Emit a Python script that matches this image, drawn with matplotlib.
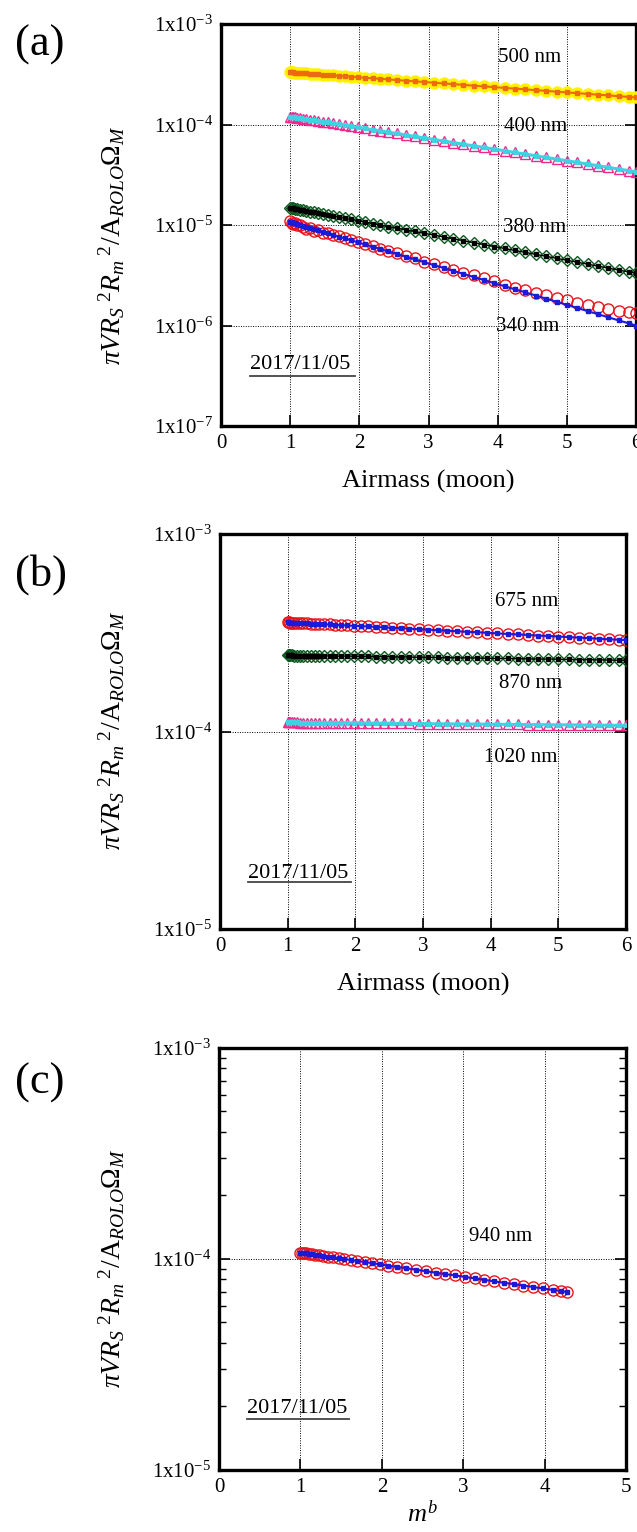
import matplotlib
matplotlib.use("Agg")
import matplotlib.pyplot as plt
import numpy as np

plt.rcParams["font.family"] = ["Liberation Serif", "DejaVu Serif"]
plt.rcParams["mathtext.fontset"] = "custom"
plt.rcParams["mathtext.rm"] = "Liberation Serif"
plt.rcParams["mathtext.it"] = "Liberation Serif:italic"
plt.rcParams["mathtext.bf"] = "Liberation Serif:bold"

# airmass samples (moon), shared by panels (a) and (b)
airmass = [1.00, 1.02, 1.04, 1.07, 1.10, 1.14, 1.18, 1.23, 1.28, 1.34, 1.40, 1.47,
           1.54, 1.62, 1.70, 1.79, 1.88, 1.98, 2.08, 2.19, 2.30, 2.42, 2.54, 2.67,
           2.80, 2.94, 3.08, 3.22, 3.36, 3.50, 3.65, 3.80, 3.95, 4.10, 4.25, 4.40,
           4.55, 4.70, 4.85, 5.00, 5.15, 5.30, 5.45, 5.60, 5.75, 5.90, 6.00]

# log10 of the normalised signal
log_500 = [-3.480, -3.481, -3.482, -3.484, -3.485, -3.487, -3.489, -3.492, -3.494, -3.497,
           -3.500, -3.504, -3.507, -3.511, -3.515, -3.520, -3.524, -3.529, -3.534, -3.540,
           -3.545, -3.551, -3.557, -3.564, -3.570, -3.577, -3.584, -3.591, -3.598, -3.605,
           -3.613, -3.620, -3.628, -3.635, -3.643, -3.650, -3.658, -3.665, -3.673, -3.680,
           -3.688, -3.695, -3.703, -3.710, -3.718, -3.725, -3.730]
log_400 = [-3.920, -3.922, -3.924, -3.928, -3.931, -3.935, -3.940, -3.945, -3.951, -3.957,
           -3.964, -3.972, -3.979, -3.988, -3.997, -4.007, -4.017, -4.028, -4.039, -4.051,
           -4.063, -4.076, -4.089, -4.104, -4.118, -4.133, -4.149, -4.164, -4.180, -4.195,
           -4.212, -4.228, -4.245, -4.261, -4.278, -4.294, -4.311, -4.327, -4.344, -4.360,
           -4.377, -4.393, -4.410, -4.426, -4.443, -4.459, -4.470]
log_380 = [-4.830, -4.833, -4.835, -4.839, -4.843, -4.848, -4.853, -4.860, -4.866, -4.874,
           -4.882, -4.891, -4.900, -4.911, -4.921, -4.933, -4.944, -4.957, -4.970, -4.985,
           -4.999, -5.015, -5.030, -5.047, -5.064, -5.082, -5.100, -5.119, -5.137, -5.155,
           -5.175, -5.194, -5.214, -5.233, -5.253, -5.272, -5.292, -5.311, -5.331, -5.350,
           -5.370, -5.389, -5.409, -5.428, -5.448, -5.467, -5.480]
log_340 = [-4.960, -4.978, -4.985, -4.980, -5.000, -4.995, -5.015, -5.040, -5.030, -5.055,
           -5.045, -5.075, -5.075, -5.100, -5.110, -5.130, -5.145, -5.170, -5.185, -5.210,
           -5.235, -5.255, -5.280, -5.310, -5.330, -5.365, -5.390, -5.415, -5.445, -5.475,
           -5.500, -5.530, -5.560, -5.595, -5.625, -5.650, -5.675, -5.700, -5.725, -5.750,
           -5.775, -5.795, -5.815, -5.835, -5.852, -5.870, -5.880]
log_340_fit = [-4.970, -4.974, -4.978, -4.984, -4.991, -4.999, -5.007, -5.017, -5.028, -5.040,
               -5.052, -5.067, -5.081, -5.098, -5.114, -5.133, -5.151, -5.172, -5.193, -5.215,
               -5.238, -5.263, -5.287, -5.314, -5.341, -5.370, -5.399, -5.427, -5.456, -5.485,
               -5.516, -5.547, -5.578, -5.609, -5.640, -5.670, -5.701, -5.732, -5.763, -5.794,
               -5.825, -5.856, -5.887, -5.918, -5.949, -5.979, -6.000]
log_675 = [-3.447, -3.447, -3.448, -3.448, -3.449, -3.450, -3.450, -3.451, -3.452, -3.453,
           -3.454, -3.456, -3.457, -3.458, -3.460, -3.461, -3.463, -3.465, -3.466, -3.468,
           -3.470, -3.473, -3.475, -3.477, -3.479, -3.482, -3.484, -3.487, -3.490, -3.492,
           -3.495, -3.497, -3.500, -3.503, -3.506, -3.508, -3.511, -3.514, -3.516, -3.519,
           -3.522, -3.524, -3.527, -3.530, -3.533, -3.535, -3.537]
log_870 = [-3.614, -3.614, -3.614, -3.614, -3.615, -3.615, -3.615, -3.615, -3.615, -3.616,
           -3.616, -3.616, -3.617, -3.617, -3.618, -3.618, -3.618, -3.619, -3.619, -3.620,
           -3.621, -3.621, -3.622, -3.622, -3.623, -3.624, -3.624, -3.625, -3.626, -3.627,
           -3.627, -3.628, -3.629, -3.630, -3.630, -3.631, -3.632, -3.633, -3.633, -3.634,
           -3.635, -3.636, -3.636, -3.637, -3.638, -3.639, -3.639]
log_1020 = [-3.954, -3.954, -3.954, -3.954, -3.954, -3.954, -3.955, -3.955, -3.955, -3.955,
            -3.955, -3.955, -3.956, -3.956, -3.956, -3.956, -3.957, -3.957, -3.957, -3.958,
            -3.958, -3.958, -3.959, -3.959, -3.959, -3.960, -3.960, -3.961, -3.961, -3.962,
            -3.962, -3.962, -3.963, -3.963, -3.964, -3.964, -3.965, -3.965, -3.966, -3.966,
            -3.966, -3.967, -3.967, -3.968, -3.968, -3.969, -3.969]

# panel (c): 940 nm against m^b
mb = [1.00, 1.02, 1.04, 1.07, 1.10, 1.14, 1.18, 1.23, 1.28, 1.34, 1.40, 1.47, 1.54,
      1.62, 1.70, 1.79, 1.88, 1.98, 2.08, 2.19, 2.30, 2.42, 2.54, 2.66, 2.78, 2.90,
      3.02, 3.14, 3.26, 3.38, 3.50, 3.62, 3.74, 3.86, 3.98, 4.10, 4.20, 4.28]
log_940 = [-3.970, -3.971, -3.972, -3.974, -3.976, -3.978, -3.980, -3.983, -3.986, -3.989,
           -3.993, -3.997, -4.001, -4.005, -4.010, -4.015, -4.020, -4.026, -4.032, -4.038,
           -4.044, -4.051, -4.058, -4.065, -4.072, -4.078, -4.085, -4.092, -4.099, -4.106,
           -4.113, -4.119, -4.126, -4.133, -4.140, -4.147, -4.152, -4.157]

yticks_a = [1e-7, 1e-6, 1e-5, 1e-4, 1e-3]
yticks_bc = [1e-5, 1e-4, 1e-3]
date_label = "2017/11/05"
ylabel = r"$\pi VR_S{}^{\ 2}R_m{}^{\ 2}/\mathrm{A}_{ROLO}\mathit{\Omega}_M$"

RED = "#e8141b"
BLUE = "#1a1ad8"
GREEN = "#0b5a20"
PINK = "#f0288c"
CYAN = "#40d2e2"
YELLOW = "#fff200"
ORANGE = "#ee6a10"


def tick_label(v):
    return r"1x10$^{%d}$" % int(round(np.log10(v)))


def draw_series(ax, x, logy, marker, ms, mfc, mec, lcol, lw, fit=None):
    y = 10 ** np.array(logy)
    ax.plot(x, y, linestyle="none", marker=marker, ms=ms, mfc=mfc, mec=mec,
            mew=1.0, zorder=3)
    yl = y if fit is None else 10 ** np.array(fit)
    ax.plot(x, yl, color=lcol, lw=lw, marker="s", ms=2.2, mec=lcol, mfc=lcol,
            zorder=4)


def style_axes(ax, xmax, yticks, minor=False):
    ax.set_yscale("log")
    ax.set_xlim(0, xmax)
    ax.set_ylim(yticks[0], yticks[-1])
    ax.set_xticks(range(0, xmax + 1))
    ax.set_yticks(yticks)
    ax.set_yticklabels([tick_label(v) for v in yticks])
    if minor:
        ax.yaxis.set_minor_locator(matplotlib.ticker.LogLocator(subs=np.arange(2, 10)))
    else:
        ax.yaxis.set_minor_locator(matplotlib.ticker.NullLocator())
    ax.yaxis.set_minor_formatter(matplotlib.ticker.NullFormatter())
    ax.grid(True, which="major", color="black", linestyle=(0, (1, 1.5)), lw=0.7)
    ax.tick_params(axis="both", which="major", direction="in", length=8,
                   width=1.2, labelsize=15, pad=6)
    ax.tick_params(axis="y", which="both", left=True, right=True)
    ax.tick_params(axis="y", which="minor", direction="in", length=5, width=1.0)
    for sp in ax.spines.values():
        sp.set_linewidth(2.4)


def date_text(ax, x, y, x2, ybar):
    ax.text(x, y, date_label, fontsize=16, va="center", ha="left", zorder=5)
    ax.plot([x, x2], [ybar, ybar], color="#444444", lw=1.3, zorder=5,
            transform=ax.get_xaxis_transform())


fig = plt.figure(figsize=(6.37, 15.32), dpi=100)

# (a)
ax_a = fig.add_axes([0.347, 0.7219, 0.6515, 0.2624])
style_axes(ax_a, 6, yticks_a)
draw_series(ax_a, airmass, log_500, "o", 8, YELLOW, YELLOW, ORANGE, 1.5)
draw_series(ax_a, airmass, log_400, "^", 7, "none", PINK, CYAN, 2.2)
draw_series(ax_a, airmass, log_380, "D", 6, "none", GREEN, "black", 1.0)
draw_series(ax_a, airmass, log_340, "o", 8, "none", RED, BLUE, 1.5, fit=log_340_fit)
for txt, x, ly in [("500 nm", 4.01, -3.33), ("400 nm", 4.09, -4.02),
                   ("380 nm", 4.07, -5.02), ("340 nm", 3.97, -6.01)]:
    ax_a.text(x, 10 ** ly, txt, fontsize=15, va="center", ha="left", zorder=6)
ax_a.set_xlabel("Airmass (moon)", fontsize=19, labelpad=12)
date_text(ax_a, 0.42, 4.1e-7, 1.93, 0.125)

# (b)
ax_b = fig.add_axes([0.3454, 0.3936, 0.6374, 0.2578])
style_axes(ax_b, 6, yticks_bc)
draw_series(ax_b, airmass, log_675, "o", 8, "none", RED, BLUE, 1.5)
draw_series(ax_b, airmass, log_870, "D", 6, "none", GREEN, "black", 1.0)
draw_series(ax_b, airmass, log_1020, "^", 7, "none", PINK, CYAN, 2.2)
for txt, x, ly in [("675 nm", 4.06, -3.34), ("870 nm", 4.12, -3.756),
                   ("1020 nm", 3.90, -4.13)]:
    ax_b.text(x, 10 ** ly, txt, fontsize=15, va="center", ha="left", zorder=6)
ax_b.set_xlabel("Airmass (moon)", fontsize=19, labelpad=12)
date_text(ax_b, 0.41, 1.92e-5, 1.93, 0.12)

# (c)
ax_c = fig.add_axes([0.3438, 0.0405, 0.639, 0.2755])
style_axes(ax_c, 5, yticks_bc, minor=True)
draw_series(ax_c, mb, log_940, "o", 8, "none", RED, BLUE, 1.5)
ax_c.text(3.07, 10 ** -3.896, "940 nm", fontsize=15, va="center", ha="left", zorder=6)
ax_c.set_xlabel(r"$m^b$", fontsize=19, labelpad=2)
date_text(ax_c, 0.34, 1.95e-5, 1.6, 0.12)

for yc in [245, 730, 1268]:
    fig.text(112 / 637, 1 - yc / 1532, ylabel, rotation=90, fontsize=20,
             ha="center", va="center")

for lab, yc in [("(a)", 45), ("(b)", 575), ("(c)", 1083)]:
    fig.text(15 / 637, 1 - yc / 1532, lab, fontsize=32, ha="left", va="center")

fig.savefig("out.png", dpi=100)
